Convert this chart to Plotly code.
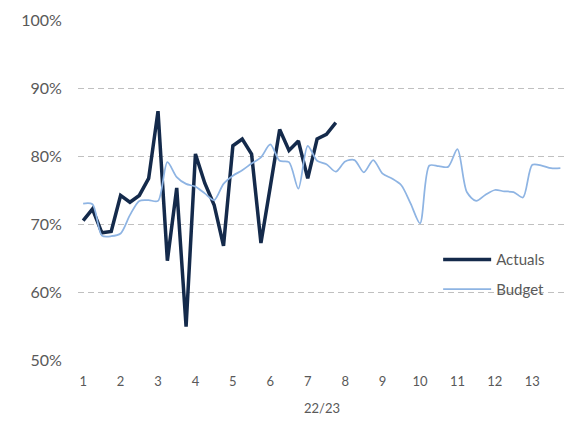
import plotly.graph_objects as go

# Data (percent)
weeks = list(range(52))
period_ticks = list(range(0, 52, 4))
period_labels = [str(i) for i in range(1, 14)]

actuals = [70.5, 72.2, 68.7, 68.9, 74.2, 73.2, 74.2, 76.7, 86.6, 64.6,
           75.3, 54.9, 80.3, 76.0, 72.8, 66.8, 81.5, 82.5, 80.3, 67.2,
           75.5, 83.9, 80.8, 82.2, 76.7, 82.5, 83.2, 84.9]

budget = [73.0, 72.9, 68.3, 68.2, 68.6, 71.3, 73.4, 73.5, 73.4, 79.1,
          76.9, 75.9, 75.5, 74.5, 73.5, 75.9, 77.1, 77.9, 78.9, 79.8,
          81.7, 79.3, 79.1, 75.2, 81.5, 79.3, 78.8, 77.7, 79.2, 79.4,
          77.6, 79.4, 77.4, 76.7, 75.7, 73.0, 70.1, 78.6, 78.5, 78.4,
          81.0, 74.7, 73.4, 74.3, 75.0, 74.8, 74.7, 73.9, 78.7, 78.6,
          78.2, 78.2]

y_ticks = [50, 60, 70, 80, 90, 100]
y_labels = [f"{v}%" for v in y_ticks]
x_title = "22/23"

FONT = "Lato, 'DejaVu Sans', sans-serif"
GREY = "#595959"

fig = go.Figure()
fig.add_trace(go.Scatter(
    x=weeks[:len(actuals)], y=actuals, name="Actuals", mode="lines",
    line=dict(color="#142A4B", width=3.5), legendgroup="a",
))
fig.add_trace(go.Scatter(
    x=weeks[:len(budget)], y=budget, name="Budget", mode="lines",
    line=dict(color="#8EB4E3", width=1.75, shape="spline", smoothing=0.8),
    legendgroup="b",
))

fig.update_layout(
    width=576, height=433,
    margin=dict(l=78, r=10, t=14, b=73),
    paper_bgcolor="white", plot_bgcolor="white",
    font=dict(family=FONT, color=GREY, size=14),
    showlegend=True,
    legend=dict(
        x=0.738, y=0.252, xanchor="left", yanchor="middle",
        bgcolor="rgba(0,0,0,0)", font=dict(size=15, color=GREY),
        itemwidth=48, traceorder="grouped", tracegroupgap=7,
    ),
    xaxis=dict(
        range=[-0.55, 51.6], tickmode="array",
        tickvals=period_ticks, ticktext=period_labels,
        showgrid=False, zeroline=False, showline=False,
        ticks="outside", ticklen=9, tickcolor="rgba(0,0,0,0)",
        tickfont=dict(size=13, color=GREY),
        title=dict(text=x_title, font=dict(size=13, color=GREY), standoff=16),
    ),
    yaxis=dict(
        range=[50, 100], tickmode="array",
        tickvals=y_ticks, ticktext=y_labels,
        showgrid=True, gridcolor="#C0C0C0", gridwidth=1, griddash="6px,4px",
        zeroline=False, showline=False,
        ticks="outside", ticklen=12, tickcolor="rgba(0,0,0,0)",
        tickfont=dict(size=16, color=GREY),
    ),
)

fig.write_html("out.html")
